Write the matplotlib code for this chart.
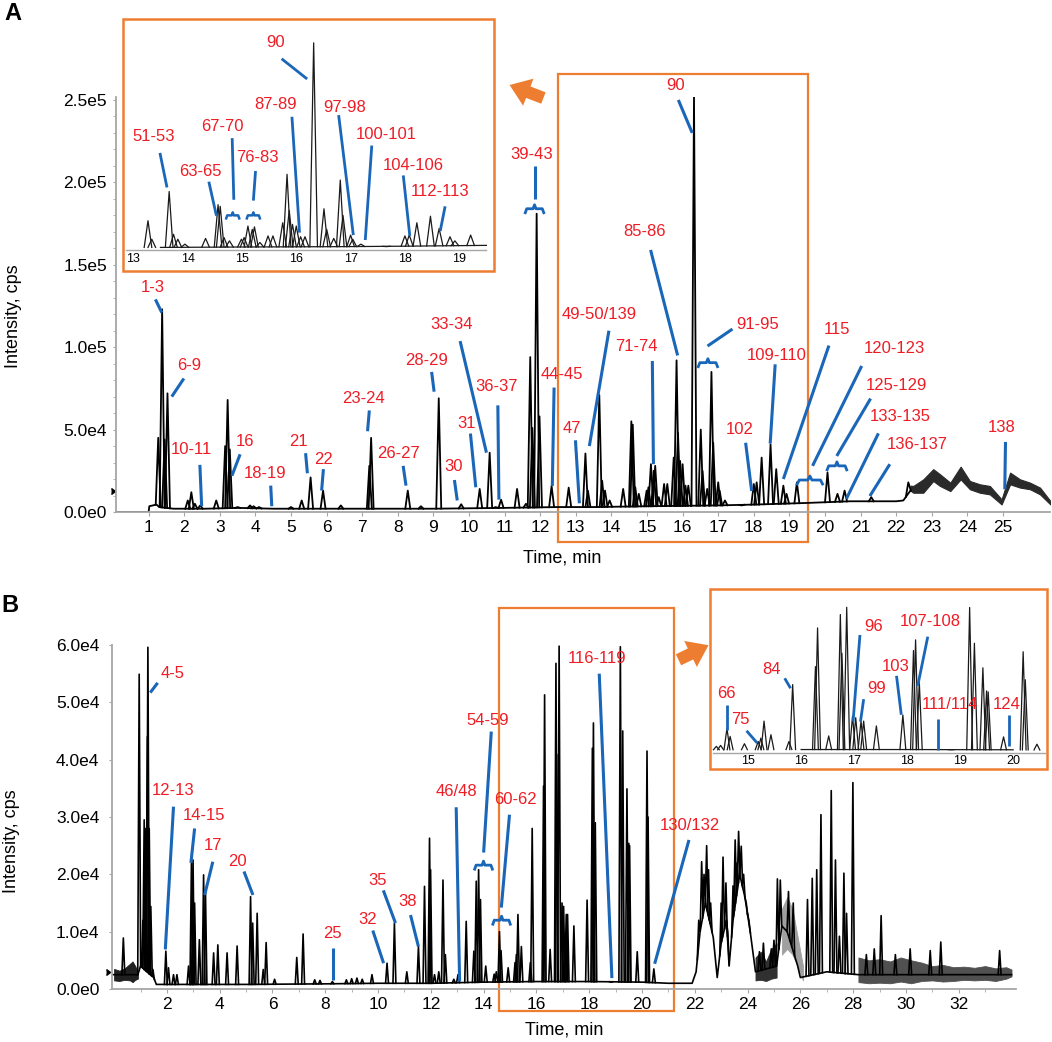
import matplotlib
matplotlib.use("Agg")

import numpy as np
import matplotlib.pyplot as plt
from matplotlib.patches import Rectangle

plt.rcParams['font.family'] = ['Liberation Sans', 'DejaVu Sans']

# Chromatograms A and B, intensities in thousands of cps

# ---- panel A ----
a_peak_t = [1.27, 1.38, 1.45, 1.53, 2.10, 2.20, 2.30, 2.45, 2.90, 3.15, 3.22, 3.28,
            3.50, 3.85, 3.95, 4.10, 5.00, 5.30, 5.55, 5.90, 6.40, 7.20, 7.25, 8.28,
            8.65, 9.15, 9.78, 10.30, 10.58, 10.75, 10.90, 11.35, 11.60, 11.72, 11.78,
            11.90, 11.98, 12.32, 12.80, 13.27, 13.34, 13.66, 13.74, 13.82, 13.95, 14.33,
            14.56, 14.60, 14.67, 14.77, 14.99, 15.04, 15.11, 15.19, 15.23, 15.33, 15.48,
            15.57, 15.75, 15.83, 15.87, 15.93, 16.00, 16.08, 16.16, 16.32, 16.51, 16.56,
            16.69, 16.81, 16.86, 17.00, 17.04, 17.19, 17.66, 18.00, 18.08, 18.22, 18.47,
            18.63, 18.83, 18.92, 19.21, 20.07, 20.35, 20.55, 21.30, 22.34]
a_peak_h = [45, 123, 44, 72, 7, 12, 5, 4, 7, 40, 68, 38,
            3, 4, 3.5, 3, 3, 7, 21, 13, 4, 28, 45, 13,
            3.5, 69, 4.7, 14, 36, 3, 7.5, 14, 5, 94, 51,
            181, 58, 15.8, 14.8, 35.5, 13, 71, 19, 13, 7, 14,
            55, 53, 15, 11, 13, 15, 29, 25, 28, 9, 17,
            17, 33, 92, 48, 31, 29, 16, 16, 252, 50, 25,
            14, 85, 42, 18, 13, 7, 4, 17, 18, 33, 41,
            26, 16, 11, 18, 24, 11, 13, 9, 18]
a_base_t = [0, 1.0, 1.02, 1.22, 1.3, 1.7, 2.6, 3.5, 4.5, 5.5, 7.0, 9.0, 11.0, 12.5,
            13.5, 15.0, 17.0, 18.0, 19.5, 20.7, 22.0, 22.2, 22.4]
a_base_h = [0, 0, 3.5, 4.5, 3, 2, 2, 2.5, 2, 2, 2, 2, 2.5, 3,
            3, 3.5, 4, 4.5, 5.5, 6.5, 6.5, 7, 13]
a_band_t = [22.4, 22.48, 22.76, 23.04, 23.23, 23.52, 23.81, 24.07, 24.35, 24.63,
            24.96, 25.2, 25.48, 25.76, 26.04, 26.33]
a_band_lo = [13, 11.7, 11.7, 18.8, 15.8, 12.7, 19.8, 13.8, 11.7, 10.7,
             4.6, 16.8, 14.8, 13.8, 10.7, 4.6]
a_band_hi = [16, 15.8, 19.8, 26, 22.9, 17.8, 27.5, 18.8, 16.8, 15.8,
             7.7, 23.9, 19.8, 17.8, 14.8, 6.7]

a_xticks = list(range(1, 26))
a_yticks = [0, 50, 100, 150, 200, 250]
a_yticklabels = ["0.0e0", "5.0e4", "1.0e5", "1.5e5", "2.0e5", "2.5e5"]
a_yminor = list(range(0, 251, 10))
ai_xticks = list(range(13, 20))

# label, text (t, h), leader line (t0, h0) -> (t1, h1)
a_labels = [
    ("1-3", 1.12, 136, 1.19, 129, 1.37, 121),
    ("6-9", 2.13, 89, 1.99, 81, 1.65, 70),
    ("10-11", 2.21, 38, 2.44, 28.6, 2.49, 3.5),
    ("16", 3.70, 43, 3.57, 35, 3.34, 22),
    ("18-19", 4.28, 23.5, 4.43, 16, 4.46, 3.5),
    ("21", 5.22, 43, 5.41, 35.7, 5.46, 23.5),
    ("22", 5.91, 31.6, 5.91, 26, 5.86, 13),
    ("23-24", 7.05, 69, 7.20, 61.6, 7.15, 49),
    ("26-27", 8.03, 35.7, 8.15, 28, 8.23, 16),
    ("28-29", 8.80, 92, 8.95, 85, 9.02, 73),
    ("30", 9.57, 27.6, 9.59, 19.4, 9.67, 7),
    ("31", 9.92, 53.5, 10.04, 47.6, 10.19, 15),
    ("33-34", 9.50, 114, 9.75, 103.7, 10.49, 36),
    ("36-37", 10.76, 76, 10.81, 64.7, 10.84, 7.5),
    ("39-43", 11.77, 217, 11.84, 210, 11.84, 190),
    ("44-45", 12.62, 83.5, 12.39, 75.5, 12.34, 15.8),
    ("47", 12.90, 50.6, 12.99, 43.5, 13.10, 5.3),
    ("49-50/139", 13.66, 120, 13.93, 110, 13.38, 40),
    ("71-74", 14.71, 100.7, 15.15, 91.6, 15.18, 29),
    ("85-86", 14.94, 170, 15.10, 159, 15.86, 95),
    ("90", 15.79, 259, 15.88, 250, 16.27, 230),
    ("91-95", 18.10, 114, 17.40, 111, 16.70, 100.7),
    ("102", 17.60, 49.8, 17.77, 42, 17.94, 12.7),
    ("109-110", 18.64, 95, 18.60, 89.6, 18.46, 41.5),
    ("115", 20.35, 111, 20.11, 101, 18.83, 20),
    ("120-123", 21.95, 99, 21.03, 88.6, 19.65, 28),
    ("125-129", 22.00, 77, 21.28, 68.8, 20.33, 34),
    ("133-135", 22.11, 58, 21.50, 47.7, 20.60, 8),
    ("136-137", 22.60, 41, 21.82, 29, 21.26, 9.7),
    ("138", 24.96, 51, 25.07, 42.5, 25.05, 13.8),
]
a_brackets = [(11.58, 12.10, 184), (16.44, 16.98, 90.6), (19.22, 19.93, 19.4), (20.06, 20.61, 28)]

ai_labels = [
    ("51-53", 13.38, 138, 13.49, 118, 13.62, 76),
    ("63-65", 14.24, 95.5, 14.39, 83, 14.53, 41.6),
    ("67-70", 14.64, 150.6, 14.82, 136, 14.85, 61),
    ("76-83", 15.29, 112.6, 15.25, 96, 15.21, 60),
    ("87-89", 15.62, 177, 15.92, 162, 16.06, 21),
    ("90", 15.61, 253, 15.73, 232.6, 16.20, 208),
    ("97-98", 16.89, 173, 16.78, 164, 17.05, 18),
    ("100-101", 17.66, 140, 17.39, 127, 17.27, 12),
    ("104-106", 18.15, 103, 17.97, 90.6, 18.09, 17),
    ("112-113", 18.65, 71, 18.74, 53, 18.65, 23),
]
ai_brackets = [(14.71, 14.95, 42), (15.09, 15.33, 42)]

# ---- panel B ----
b_peak_t = [0.35, 0.95, 1.09, 1.14, 1.20, 1.26, 1.28, 1.33, 1.39, 1.47, 1.96, 2.06,
            2.25, 2.38, 2.82, 2.93, 2.99, 3.05, 3.23, 3.39, 3.46, 3.77, 3.93, 4.28,
            4.66, 5.17, 5.25, 5.42, 5.65, 5.76, 6.08, 6.92, 7.16, 7.6, 7.8, 8.27,
            8.8, 9.0, 9.2, 9.4, 9.77, 10.34, 10.62, 11.09, 11.53, 11.76, 11.95, 11.99,
            12.14, 12.30, 12.46, 12.55, 12.87, 13.03, 13.34, 13.63, 13.72, 13.81, 13.88,
            14.08, 14.40, 14.48, 14.60, 14.66, 14.93, 15.19, 15.24, 15.30, 15.43, 15.77,
            15.84, 16.27, 16.31, 16.52, 16.74, 16.77, 16.86, 16.97, 17.03, 17.13, 17.18,
            17.42, 17.92, 18.12, 18.16, 18.23, 18.83, 19.18, 19.27, 19.43, 19.50, 19.53,
            19.82, 20.19, 20.23, 20.45, 22.15, 22.26, 22.35, 22.45, 22.52, 22.60, 23.00,
            23.07, 23.18, 23.25, 23.45, 23.53, 23.60, 23.66, 23.76, 23.85, 23.95, 24.05,
            24.45, 24.60, 24.90, 25.0, 25.13, 25.24, 25.55, 25.73, 26.27, 26.45,
            26.62, 26.78, 27.17, 27.33, 27.48, 27.65, 27.75, 27.99, 28.5, 28.8, 29.06,
            29.6, 30.16, 30.92, 31.32, 33.55]
b_peak_h = [8.9, 54.9, 12, 29.5, 28, 44, 59.6, 28, 14.4, 3.4, 6.6, 3.7,
            2.5, 2.5, 4, 22, 22.5, 15, 8.6, 19.9, 17.3, 6.3, 7.7, 6.3,
            7.5, 16.1, 11.5, 13.2, 3.4, 8.1, 1.7, 5.5, 9.6, 1.6, 1.5, 1.3,
            1.6, 1.8, 1.9, 1.7, 2.5, 4.5, 11.5, 3, 7.4, 17.9, 26.3, 20.8,
            2.5, 3, 19, 6, 1.7, 2.5, 11.8, 6.6, 18.8, 20.8, 15.6,
            4, 2.6, 3, 10, 6.7, 3.7, 4.6, 6, 13, 7.4, 4.6,
            28, 35.4, 51.3, 6.9, 56.8, 40.9, 59.8, 15, 14.4, 13, 13,
            11, 15.5, 42, 46.4, 29, 1.2, 59.7, 45, 34.9, 25.4, 25,
            6.5, 41.5, 30, 3.5, 12, 22.2, 20, 25, 20.8, 15, 15,
            23, 18.5, 10, 18, 26, 22, 27.5, 24.9, 20, 15, 12,
            6.5, 8, 7, 8.5, 19.2, 19, 17, 15, 15.6, 19.3,
            20.8, 30.4, 34.6, 22.5, 9.2, 20.2, 13.2, 36, 6, 7, 12.8,
            6, 7, 6.7, 8.2, 6.7]
b_base_t = [-0.05, 0.9, 1.0, 1.5, 1.6, 2.5, 5.0, 8.0, 10.0, 12.0, 14.0, 16.0, 18.0,
            20.0, 21.0, 21.9, 22.05, 22.2, 22.4, 22.7, 22.85, 23.0, 23.2, 23.3, 23.45,
            23.7, 23.9, 24.1, 24.3, 25.1, 25.3, 25.5, 25.9, 26.0, 27.0, 28.2, 34.0]
b_base_h = [2.5, 2.5, 4.0, 2.0, 0.8, 0.8, 0.8, 0.9, 1.0, 1.0, 1.2, 1.3, 1.3,
            1.2, 1.0, 1.0, 3, 10, 15, 9, 2, 8, 12, 4, 12,
            20, 16, 10, 3, 4, 11, 10, 4, 2, 3, 2.5, 2.5]
# noisy stretches drawn as filled envelopes
b_noise = [
    ([0.0, 0.2, 0.4, 0.6, 0.7, 0.8, 0.9], [1.5, 1.4, 1.6, 1.5, 1.2, 1.6, 1.8],
     [3.5, 3.2, 3.6, 4.4, 4.8, 4.0, 3.0], '#202020'),
    ([24.3, 24.5, 24.7, 24.9, 25.1], [1.5, 1.6, 1.4, 1.8, 2.0],
     [5.5, 6.5, 4.8, 7.0, 8.0], '#303030'),
    ([25.3, 25.5, 25.7, 25.9, 26.1], [6, 7, 6, 4, 1.5], [14, 16, 14, 9, 4], '#a0a0a0'),
    ([28.2, 28.6, 29.0, 29.4, 29.8, 30.2, 30.6, 31.0, 31.4, 31.8, 32.2, 32.6, 33.0,
      33.4, 33.8, 34.0],
     [1.2, 1.0, 1.1, 1.0, 1.3, 1.0, 1.4, 1.5, 1.3, 1.4, 1.6, 1.5, 1.6, 1.4, 1.8, 2.2],
     [5.5, 5.0, 5.2, 4.8, 5.5, 5.0, 4.6, 4.0, 4.2, 3.8, 3.9, 3.7, 4.0, 3.6, 3.8, 3.4],
     '#505050'),
]

b_xticks = list(range(2, 33, 2))
b_xminor = list(range(1, 34))
b_yticks = [0, 10, 20, 30, 40, 50, 60]
b_yticklabels = ["0.0e0", "1.0e4", "2.0e4", "3.0e4", "4.0e4", "5.0e4", "6.0e4"]
bi_xticks = list(range(15, 21))

b_labels = [
    ("4-5", 2.23, 55, 1.65, 53.4, 1.37, 51.7),
    ("12-13", 2.25, 34.7, 2.25, 31.8, 1.94, 6.9),
    ("14-15", 3.42, 30.2, 3.05, 28, 2.91, 22),
    ("17", 3.74, 25, 3.74, 22.2, 3.43, 16.4),
    ("20", 4.69, 22.2, 4.92, 20.5, 5.26, 16.4),
    ("25", 8.27, 9.6, 8.30, 7.1, 8.30, 1.5),
    ("32", 9.60, 12.2, 9.80, 10.2, 10.21, 4.5),
    ("35", 9.98, 19, 10.20, 17.2, 10.66, 11.5),
    ("38", 11.10, 15.2, 11.23, 12.9, 11.53, 7.4),
    ("46/48", 12.96, 34.4, 12.96, 31.7, 13.09, 1.3),
    ("54-59", 14.17, 46.8, 14.29, 44.9, 14.00, 23.8),
    ("60-62", 15.22, 33, 14.98, 30.4, 14.67, 14.2),
    ("116-119", 18.31, 57.7, 18.38, 55, 18.86, 1.9),
    ("130/132", 21.81, 28.6, 21.78, 26, 20.48, 4.4),
]
b_brackets = [(13.66, 14.33, 21.6), (14.35, 15.01, 12)]

bi_labels = [
    ("66", 14.59, 24.5, 14.60, 19.7, 14.60, 9.4),
    ("75", 14.86, 13.5, 14.97, 9, 15.17, 4),
    ("84", 15.45, 34.4, 15.69, 30.6, 15.80, 26.5),
    ("96", 17.36, 51.8, 17.11, 48.4, 16.98, 12.8),
    ("99", 17.43, 26.2, 17.18, 22, 17.12, 12.8),
    ("103", 17.79, 35.4, 17.80, 31.6, 17.89, 15.6),
    ("107-108", 18.43, 53.9, 18.39, 47.7, 18.20, 27.5),
    ("111/114", 18.80, 20, 18.59, 13.9, 18.59, 1.2),
    ("124", 19.88, 20, 19.92, 15.6, 19.92, 2.6),
]

RED = '#ee1c25'
BLUE = '#1a66b8'
ORANGE = '#ed7d31'
GREY = '#a6a6a6'
LABEL_SIZE = 12

W, H = 1052, 1042
fig = plt.figure(figsize=(W / 100, H / 100), dpi=100)


def px_axes(x0, y0, x1, y1):
    # box given in image pixels, origin top-left
    return fig.add_axes([x0 / W, 1 - y1 / H, (x1 - x0) / W, (y1 - y0) / H])


def draw_trace(ax, pk_t, pk_h, base_t, base_h, w, lw, color, lo=-1, hi=99):
    bt = np.array(base_t)
    bh = np.array(base_h)
    keep = (bt >= lo - 0.3) & (bt <= hi + 0.3)
    ax.plot(bt[keep], bh[keep], color=color, lw=lw)
    for t, h in zip(pk_t, pk_h):
        if t < lo or t > hi:
            continue
        feet = np.interp([t - w, t + w], base_t, base_h)
        ax.plot([t - w, t, t + w], [feet[0], h, feet[1]], color=color, lw=lw)


def dy_per_px(ax, y_px_range, n):
    lo, hi = ax.get_ylim()
    return n * (hi - lo) / y_px_range


def annotate(ax, labels, size, lw):
    for lab, tx, ty, x0, y0, x1, y1 in labels:
        ax.plot([x0, x1], [y0, y1], color=BLUE, lw=lw, clip_on=False,
                solid_capstyle='butt')
        ax.text(tx, ty, lab, color=RED, fontsize=size, ha='center', va='center',
                clip_on=False)


def brackets(ax, items, down, up, lw):
    for t0, t1, h in items:
        tm = (t0 + t1) / 2
        e = (t1 - t0) * 0.08
        ax.plot([t0, t0 + e, tm - e, tm, tm + e, t1 - e, t1],
                [h - down, h, h, h + up, h, h, h - down],
                color=BLUE, lw=lw, clip_on=False)


def style_main(ax, xticks, yticks, ylabels):
    for s in ['top', 'right']:
        ax.spines[s].set_visible(False)
    for s in ['left', 'bottom']:
        ax.spines[s].set_color(GREY)
        ax.spines[s].set_linewidth(1.3)
    ax.set_xticks(xticks)
    ax.set_xticklabels([str(v) for v in xticks])
    ax.set_yticks(yticks)
    ax.set_yticklabels(ylabels)
    ax.tick_params(axis='x', length=3, color=GREY, labelsize=12.5, pad=3)
    ax.tick_params(axis='y', length=2, color=GREY, labelsize=12.5, pad=4.5)


def style_inset(ax, xticks, x_end):
    for s in ['top', 'right', 'left']:
        ax.spines[s].set_visible(False)
    ax.spines['bottom'].set_position(('data', 0))
    ax.spines['bottom'].set_color(GREY)
    ax.spines['bottom'].set_linewidth(1.0)
    ax.spines['bottom'].set_bounds(ax.get_xlim()[0] + 0.05, x_end)
    ax.set_yticks([])
    ax.set_xticks(xticks)
    ax.set_xticklabels([str(v) for v in xticks])
    ax.tick_params(axis='x', length=0, labelsize=9, pad=2)
    ax.add_patch(Rectangle((0, 0), 1, 1, transform=ax.transAxes, fill=False,
                           ec=ORANGE, lw=1.8, clip_on=False))


# ---------------- A main ----------------
axA = px_axes(116, 97, 1050, 512)
axA.set_xlim(0.084, 26.32)
axA.set_ylim(0, 251.8)
draw_trace(axA, a_peak_t, a_peak_h, a_base_t, a_base_h, 0.07, 1.3, 'black')
axA.fill_between(a_band_t, a_band_lo, a_band_hi, color='#2a2a2a', lw=0.8)
style_main(axA, a_xticks, a_yticks, a_yticklabels)
axA.set_yticks(a_yminor, minor=True)
axA.tick_params(axis='y', which='minor', length=2, color=GREY)
annotate(axA, a_labels, LABEL_SIZE, 2.2)
brackets(axA, a_brackets, dy_per_px(axA, 415, 4), dy_per_px(axA, 415, 4), 2.0)
axA.add_patch(Rectangle((12.5, -18), 7.02, 284, fill=False, ec=ORANGE, lw=1.6,
                        clip_on=False))
axA.plot([-0.05], [13], marker=9, color='black', ms=4, clip_on=False)

# ---------------- A inset ----------------
axAi = px_axes(123, 19, 494, 271)
axAi.set_xlim(12.81, 19.64)
axAi.set_ylim(-25.7, 281)
draw_trace(axAi, a_peak_t, a_peak_h, a_base_t, a_base_h, 0.07, 0.9, '#1a1a1a',
           lo=12.85, hi=19.45)
style_inset(axAi, ai_xticks, 19.5)
annotate(axAi, ai_labels, LABEL_SIZE, 2.0)
brackets(axAi, ai_brackets, dy_per_px(axAi, 252, 3), dy_per_px(axAi, 252, 3), 1.8)

# ---------------- B main ----------------
axB = px_axes(112, 645, 1016, 989)
axB.set_xlim(-0.08, 34.17)
axB.set_ylim(0, 60)
draw_trace(axB, b_peak_t, b_peak_h, b_base_t, b_base_h, 0.055, 1.2, 'black')
for nt, nlo, nhi, ncol in b_noise:
    axB.fill_between(nt, nlo, nhi, color=ncol, lw=0.6)
style_main(axB, b_xticks, b_yticks, b_yticklabels)
axB.tick_params(axis='y', pad=7)
axB.set_xticks(b_xminor, minor=True)
axB.tick_params(axis='x', which='minor', length=2, color=GREY)
annotate(axB, b_labels, LABEL_SIZE, 2.2)
brackets(axB, b_brackets, dy_per_px(axB, 344, 4), dy_per_px(axB, 344, 4), 2.0)
axB.add_patch(Rectangle((14.6, -3.9), 6.62, 70.4, fill=False, ec=ORANGE, lw=1.6,
                        clip_on=False))
axB.plot([-0.3], [3.0], marker=9, color='black', ms=4, clip_on=False)

# ---------------- B inset ----------------
axBi = px_axes(710, 589, 1047, 769)
axBi.set_xlim(14.28, 20.64)
axBi.set_ylim(-6.7, 67.3)
draw_trace(axBi, b_peak_t, b_peak_h, b_base_t, b_base_h, 0.055, 0.9, '#1a1a1a',
           lo=14.35, hi=20.6)
style_inset(axBi, bi_xticks, 20.6)
annotate(axBi, bi_labels, LABEL_SIZE, 2.0)

# ---------------- arrows, titles ----------------
arrow_style = 'simple,head_length=0.9,head_width=1.3,tail_width=0.55'
axA.annotate('', xy=(507, H - 84), xytext=(546, H - 99), xycoords='figure pixels',
             textcoords='figure pixels',
             arrowprops=dict(arrowstyle=arrow_style, color=ORANGE, lw=0,
                             mutation_scale=16))
axB.annotate('', xy=(711, H - 644), xytext=(676, H - 661), xycoords='figure pixels',
             textcoords='figure pixels',
             arrowprops=dict(arrowstyle=arrow_style, color=ORANGE, lw=0,
                             mutation_scale=16))

fig.text(13 / W, 1 - 13 / H, "A", fontsize=17, fontweight='bold', ha='center',
         va='center')
fig.text(10 / W, 1 - 605 / H, "B", fontsize=17, fontweight='bold', ha='center',
         va='center')
fig.text(14 / W, 1 - 316 / H, "Intensity, cps", fontsize=13, rotation=90,
         ha='center', va='center')
fig.text(12 / W, 1 - 841 / H, "Intensity, cps", fontsize=13, rotation=90,
         ha='center', va='center')
fig.text(562 / W, 1 - 558 / H, "Time, min", fontsize=13, ha='center', va='center')
fig.text(564 / W, 1 - 1030 / H, "Time, min", fontsize=13, ha='center', va='center')

fig.savefig("out.png", dpi=100)
